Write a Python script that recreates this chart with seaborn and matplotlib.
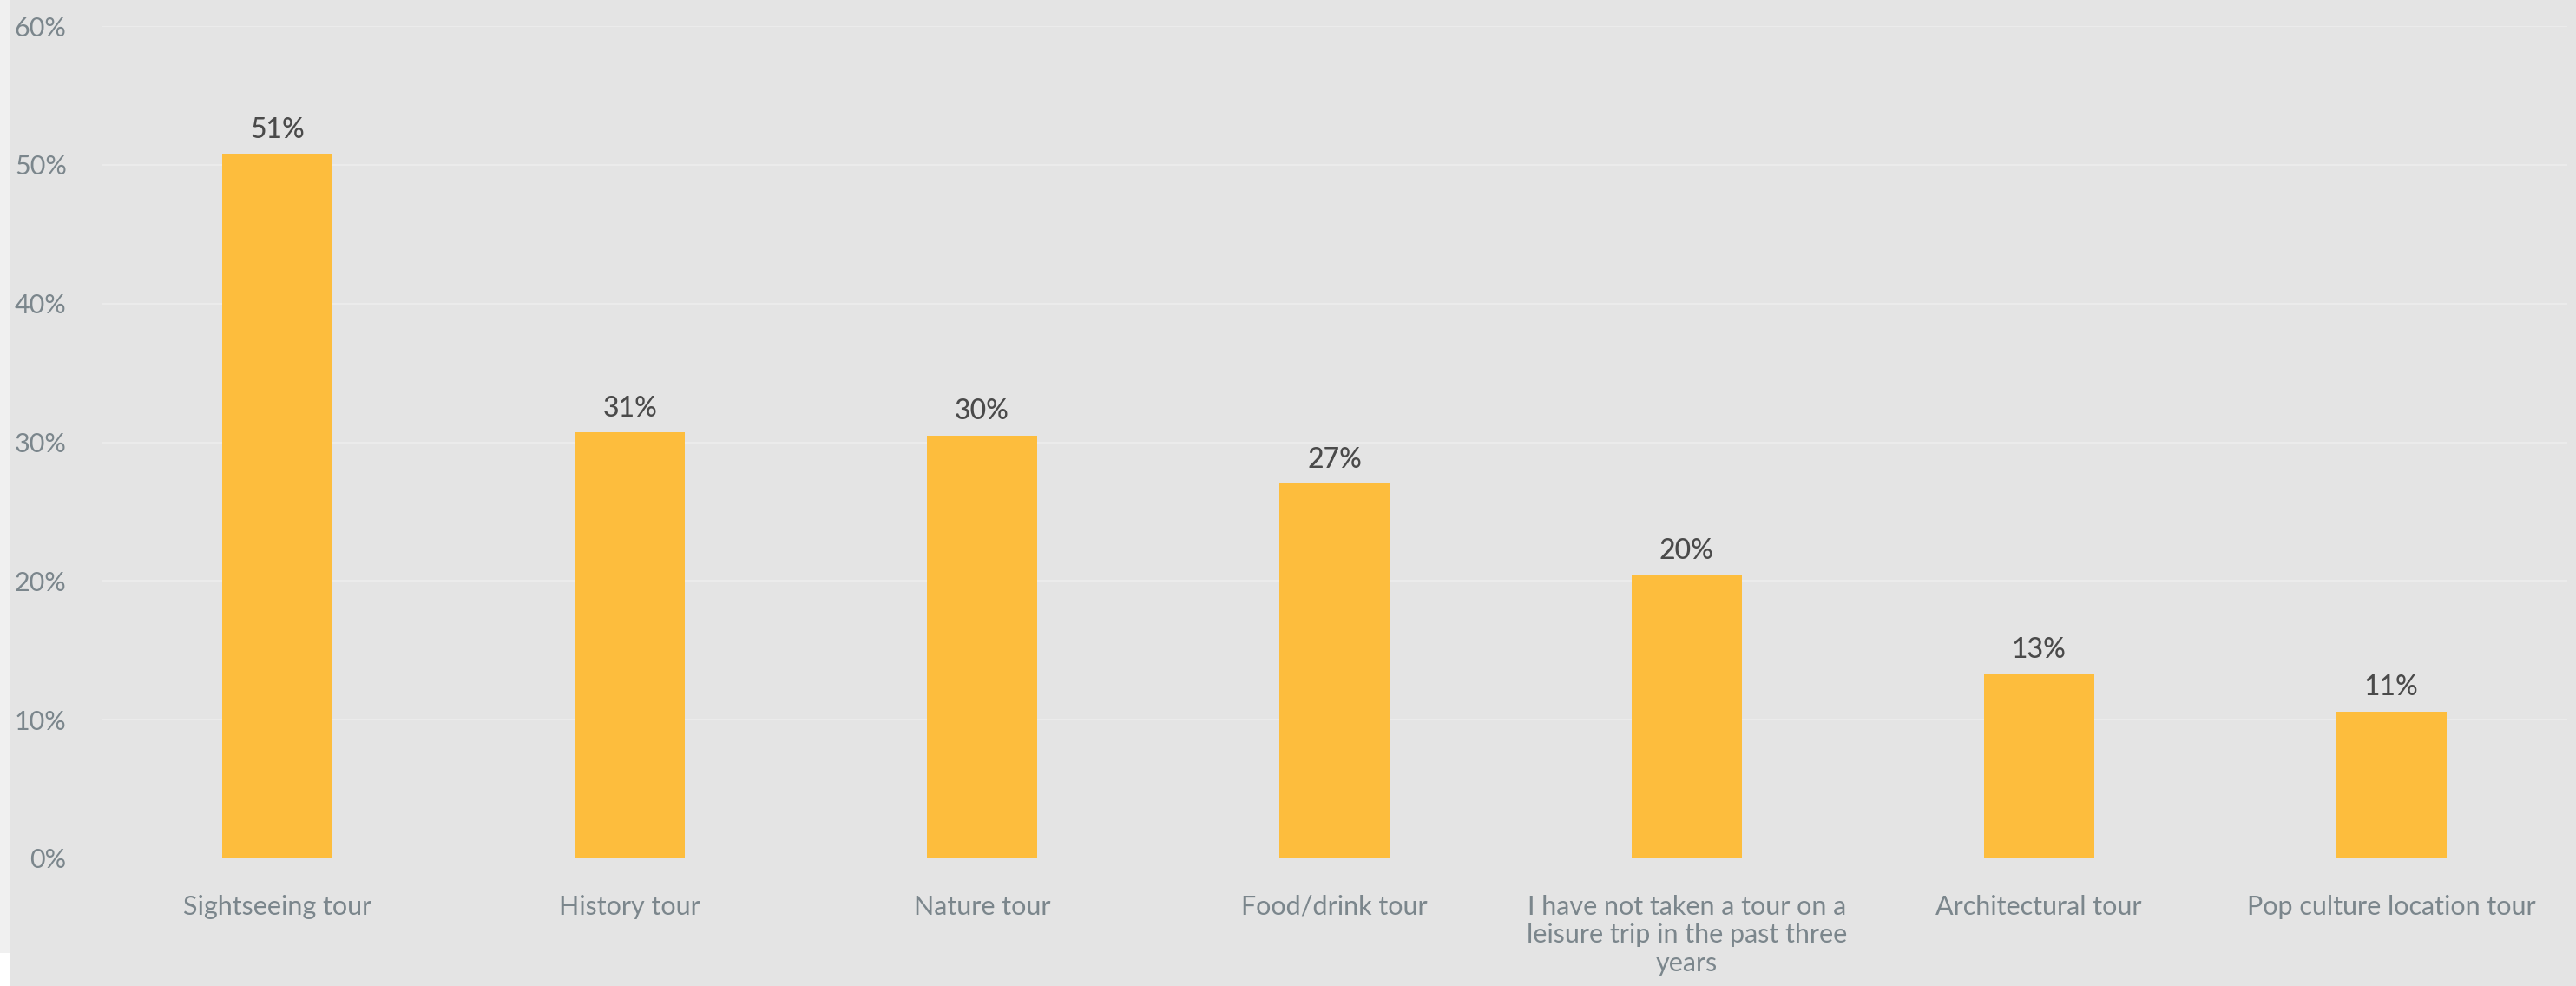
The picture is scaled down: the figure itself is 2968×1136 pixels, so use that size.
import matplotlib
matplotlib.use("Agg")
import matplotlib.pyplot as plt
import seaborn as sns
import pandas as pd
from matplotlib.patches import Rectangle

categories = [
    "Sightseeing tour",
    "History tour",
    "Nature tour",
    "Food/drink tour",
    "I have not taken a tour on a\nleisure trip in the past three\nyears",
    "Architectural tour",
    "Pop culture location tour",
]
values = [50.8, 30.7, 30.5, 27.0, 20.4, 13.3, 10.6]
labels = ["51%", "31%", "30%", "27%", "20%", "13%", "11%"]
yticks = [0, 10, 20, 30, 40, 50, 60]
ytick_labels = ["0%", "10%", "20%", "30%", "40%", "50%", "60%"]

sns.set_theme(style="white")
plt.rcParams["font.family"] = ["Lato", "DejaVu Sans"]

BG = "#e4e4e4"
fig = plt.figure(figsize=(29.68, 11.36), dpi=100, facecolor=BG)
# lighter strip on the left edge
fig.patches.append(Rectangle((0, (1136 - 1098) / 1136), 11 / 2968, 1098 / 1136,
                             transform=fig.transFigure, facecolor="#f0f0f0",
                             edgecolor="none", zorder=0))
fig.patches.append(Rectangle((0, 0), 11 / 2968, (1136 - 1098) / 1136,
                             transform=fig.transFigure, facecolor="#ffffff",
                             edgecolor="none", zorder=0))

ax = fig.add_axes([117 / 2968, (1136 - 989) / 1136, (2958 - 117) / 2968, (989 - 30) / 1136])
ax.set_facecolor(BG)

df = pd.DataFrame({"cat": categories, "val": values})
sns.barplot(data=df, x="cat", y="val", color="#FDBD3D", saturation=1, width=0.313,
            linewidth=0, edgecolor="none", ax=ax, zorder=3)

ax.set_ylim(0, 60)
ax.set_xlim(-0.5, 6.5)
ax.set_yticks(yticks)
ax.set_yticklabels(ytick_labels)
ax.yaxis.grid(True, color="#ebebeb", linewidth=1.6, zorder=0)
ax.set_axisbelow(True)
for s in ax.spines.values():
    s.set_visible(False)
ax.set_xlabel("")
ax.set_ylabel("")
ax.tick_params(axis="y", length=0, pad=29, labelsize=22, labelcolor="#7b868c")
ax.tick_params(axis="x", length=0, pad=30, labelsize=22, labelcolor="#7b868c")
for t in ax.get_xticklabels():
    t.set_multialignment("center")
    t.set_linespacing(1.2)

for i, (v, lab) in enumerate(zip(values, labels)):
    ax.annotate(lab, (i, v), xytext=(0, 9), textcoords="offset points",
                ha="center", va="bottom", fontsize=23, color="#4a4a4a",
                fontweight="medium")

fig.savefig("out.png", dpi=100, facecolor=BG)
